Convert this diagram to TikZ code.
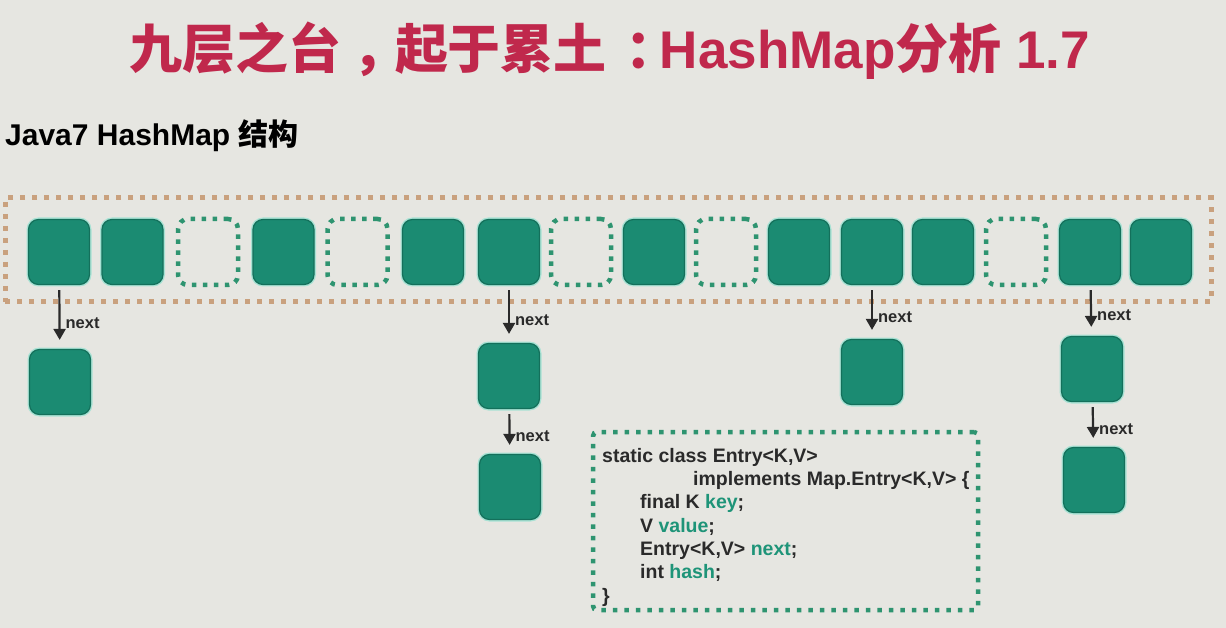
\documentclass[tikz,border=0pt]{standalone}
\usepackage{fontspec}
\setmainfont{Liberation Sans}
\newfontfamily\cjk{Noto Sans CJK SC}
\usetikzlibrary{arrows.meta}
\definecolor{bgc}{HTML}{E6E6E1}
\definecolor{tealf}{HTML}{1B8B72}
\definecolor{teald}{HTML}{14705B}
\definecolor{halo}{HTML}{A8E2D4}
\definecolor{dotgreen}{HTML}{2E9470}
\definecolor{dotorange}{HTML}{C9A17E}
\definecolor{titlered}{HTML}{C0284C}
\definecolor{codeteal}{HTML}{1E9478}
\definecolor{ink}{HTML}{2A2A2A}
\begin{document}
\begin{tikzpicture}[x=1pt,y=-1pt,
  cell/.style={rectangle, rounded corners=10pt, minimum width=61pt, minimum height=65pt,
    inner sep=0pt, fill=tealf, draw=teald, line width=1.2pt,
    preaction={draw=halo, line width=4pt}},
  emptycell/.style={rectangle, rounded corners=10pt, minimum width=60pt, minimum height=66pt,
    inner sep=0pt, draw=dotgreen, line width=4.5pt, dash pattern=on 4.5pt off 6.5pt},
  arraybox/.style={rectangle, inner sep=0pt, draw=dotorange, line width=5pt,
    dash pattern=on 5pt off 7pt},
  codebox/.style={rectangle, rounded corners=4pt, inner sep=0pt, draw=dotgreen,
    line width=4.5pt, dash pattern=on 4.5pt off 7pt},
  nextarrow/.style={draw=ink, line width=2.2pt, -{Triangle[width=12pt,length=11pt]},
    shorten <=5pt, shorten >=9pt},
  nextlbl/.style={right, pos=0.6, xshift=4pt, inner sep=1pt, text=ink,
    font=\bfseries\fontsize{16.5}{18}\selectfont},
  codetext/.style={anchor=north west, align=left, inner sep=0pt, text=ink,
    font=\bfseries\fontsize{19.5}{23.3}\selectfont}]
\useasboundingbox (0,0) rectangle (1226,628);
\fill[bgc] (0,0) rectangle (1226,628);

% title and subtitle
\node[anchor=base, inner sep=0pt, text=titlered, font=\bfseries\fontsize{53}{60}\selectfont]
  (title) at (610,69) {{\cjk\bfseries 九层之台\hspace{0.2em}，\hspace{-0.2em}起于累土\hspace{0.35em}：\hspace{-0.35em}}HashMap{\cjk\bfseries 分析} 1.7};
\node[anchor=base west, inner sep=0pt, text=black, font=\bfseries\fontsize{30}{34}\selectfont]
  (sub) at (5,146) {Java7 HashMap {\cjk\bfseries 结构}};

% array frame
\node[arraybox, minimum width=1206pt, minimum height=104pt] (arr) at (608,250) {};

% array cells
\node[cell]      (c1)  at (59,252)   {};
\node[cell]      (c2)  at (132.5,252) {};
\node[emptycell] (c3)  at (208,252)  {};
\node[cell]      (c4)  at (283.5,252) {};
\node[emptycell] (c5)  at (357.5,252) {};
\node[cell]      (c6)  at (433,252)  {};
\node[cell]      (c7)  at (509,252)  {};
\node[emptycell] (c8)  at (581,252)  {};
\node[cell]      (c9)  at (654,252)  {};
\node[emptycell] (c10) at (726,252)  {};
\node[cell]      (c11) at (799,252)  {};
\node[cell]      (c12) at (872,252)  {};
\node[cell]      (c13) at (943,252)  {};
\node[emptycell] (c14) at (1016,252) {};
\node[cell]      (c15) at (1090,252) {};
\node[cell]      (c16) at (1161,252) {};

% chained entries
\node[cell] (n1)  at (60,382)   {};
\node[cell] (n7a) at (509,376)  {};
\node[cell] (n7b) at (510,487)  {};
\node[cell] (n12) at (872,372)  {};
\node[cell] (n15a) at (1092,369) {};
\node[cell] (n15b) at (1094,480) {};

\draw[nextarrow] (c1)  -- node[nextlbl]{next} (n1);
\draw[nextarrow] (c7)  -- node[nextlbl]{next} (n7a);
\draw[nextarrow] (n7a) -- node[nextlbl]{next} (n7b);
\draw[nextarrow] (c12) -- node[nextlbl]{next} (n12);
\draw[nextarrow] (c15) -- node[nextlbl]{next} (n15a);
\draw[nextarrow] (n15a) -- node[nextlbl]{next} (n15b);

% Entry class box
\node[codebox, minimum width=385pt, minimum height=178pt] (cbox) at (785.5,521) {};
\node[codetext] (code) at (602,448) {%
static class Entry<K,V>\\
\hspace*{91pt}implements Map.Entry<K,V> \{\\
\hspace*{38pt}final K \textcolor{codeteal}{key};\\
\hspace*{38pt}V \textcolor{codeteal}{value};\\
\hspace*{38pt}Entry<K,V> \textcolor{codeteal}{next};\\
\hspace*{38pt}int \textcolor{codeteal}{hash};\\
\}};
\end{tikzpicture}
\end{document}
